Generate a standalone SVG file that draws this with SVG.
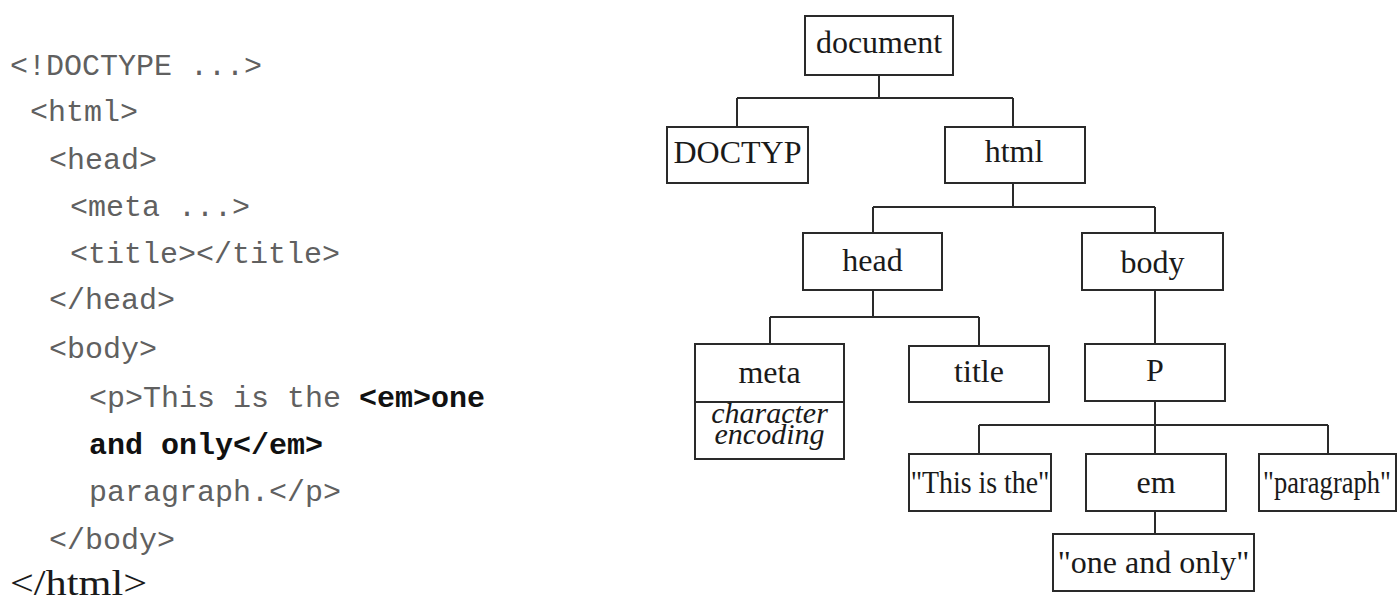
<svg xmlns="http://www.w3.org/2000/svg" width="1397" height="603" viewBox="0 0 1397 603">
  <style>
    .code { font-family: "Liberation Mono", "Courier New", monospace; font-size: 30px; fill: #606060; }
    .code .b { font-weight: bold; fill: #111; }
    .box { fill: #fff; stroke: #2a2a2a; stroke-width: 2; }
    .lbl { font-family: "Liberation Serif", "Times New Roman", serif; font-size: 32px; fill: #1a1a1a; text-anchor: middle; }
    .note { font-family: "Liberation Serif", "Times New Roman", serif; font-size: 30px; font-style: italic; fill: #1a1a1a; text-anchor: middle; }
    .wire { fill: none; stroke: #2a2a2a; stroke-width: 2; }
  </style>

  <rect width="1397" height="603" fill="#fff"/>

  <!-- HTML source listing -->
  <g id="source">
    <text class="code" x="10" y="75">&lt;!DOCTYPE ...&gt;</text>
    <text class="code" x="30" y="121">&lt;html&gt;</text>
    <text class="code" x="49" y="169">&lt;head&gt;</text>
    <text class="code" x="70" y="216">&lt;meta ...&gt;</text>
    <text class="code" x="70" y="263">&lt;title&gt;&lt;/title&gt;</text>
    <text class="code" x="49" y="309">&lt;/head&gt;</text>
    <text class="code" x="49" y="358">&lt;body&gt;</text>
    <text class="code" x="89" y="407" xml:space="preserve">&lt;p&gt;This is the <tspan class="b">&lt;em&gt;one</tspan></text>
    <text class="code" x="89" y="454"><tspan class="b">and only&lt;/em&gt;</tspan></text>
    <text class="code" x="89" y="501">paragraph.&lt;/p&gt;</text>
    <text class="code" x="49" y="549">&lt;/body&gt;</text>
    <text x="10" y="595" font-family="Liberation Serif, Times New Roman, serif" font-size="35" fill="#1a1a1a" textLength="137" lengthAdjust="spacingAndGlyphs">&lt;/html&gt;</text>
  </g>

  <!-- tree connectors -->
  <g id="connectors">
    <path class="wire" d="M879,75 V98 M737,98 H1013 M737,98 V127 M1013,98 V127"/>
    <path class="wire" d="M1013,183 V207 M873,207 H1155 M873,207 V233 M1155,207 V233"/>
    <path class="wire" d="M873,290 V317 M770,317 H979 M770,317 V344 M979,317 V346"/>
    <path class="wire" d="M1155,290 V344"/>
    <path class="wire" d="M1155,401 V425 M979,425 H1328 M979,425 V454 M1155,425 V454 M1328,425 V454"/>
    <path class="wire" d="M1155,511 V534"/>
  </g>

  <!-- tree nodes -->
  <g id="node-document">
    <rect class="box" x="805" y="16" width="148" height="59"/>
    <text class="lbl" x="879" y="53">document</text>
  </g>
  <g id="node-doctype">
    <rect class="box" x="667" y="127" width="141" height="56"/>
    <text class="lbl" x="737.5" y="163">DOCTYP</text>
  </g>
  <g id="node-html">
    <rect class="box" x="945" y="127" width="140" height="56"/>
    <text class="lbl" x="1014" y="162">html</text>
  </g>
  <g id="node-head">
    <rect class="box" x="803" y="233" width="139" height="57"/>
    <text class="lbl" x="872.5" y="271">head</text>
  </g>
  <g id="node-body">
    <rect class="box" x="1082" y="233" width="141" height="57"/>
    <text class="lbl" x="1152.5" y="273">body</text>
  </g>
  <g id="node-meta">
    <rect class="box" x="695" y="344" width="149" height="115"/>
    <line class="wire" x1="695" y1="402" x2="844" y2="402"/>
    <text class="lbl" x="769.5" y="383">meta</text>
    <!-- two-line annotation, tightly set -->
    <text class="note"><tspan x="769.5" y="423">character</tspan><tspan x="769.5" y="444">encoding</tspan></text>
  </g>
  <g id="node-title">
    <rect class="box" x="909" y="346" width="140" height="56"/>
    <text class="lbl" x="979" y="382">title</text>
  </g>
  <g id="node-p">
    <rect class="box" x="1085" y="344" width="140" height="57"/>
    <text class="lbl" x="1155" y="381">P</text>
  </g>
  <g id="node-text-this">
    <rect class="box" x="909" y="454" width="142" height="57"/>
    <!-- narrowed label so it fits the box -->
    <text class="lbl" transform="translate(980,493) scale(0.87,1)">"This is the"</text>
  </g>
  <g id="node-em">
    <rect class="box" x="1086" y="454" width="140" height="57"/>
    <text class="lbl" x="1156" y="493">em</text>
  </g>
  <g id="node-text-paragraph">
    <rect class="box" x="1259" y="454" width="137" height="57"/>
    <text class="lbl" transform="translate(1327,493) scale(0.83,1)">"paragraph"</text>
  </g>
  <g id="node-text-one">
    <rect class="box" x="1053" y="534" width="201" height="57"/>
    <text class="lbl" x="1153.5" y="573">"one and only"</text>
  </g>
</svg>
